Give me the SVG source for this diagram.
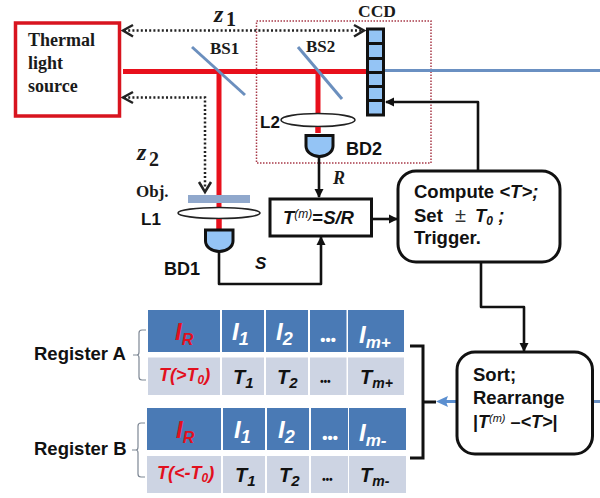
<svg xmlns="http://www.w3.org/2000/svg" width="600" height="498" viewBox="0 0 600 498">
<style>
.s{font-family:"Liberation Serif",serif;font-weight:bold;fill:#1a1a1a}
.a{font-family:"Liberation Sans",Arial,sans-serif;font-weight:bold;fill:#111}
.i{font-style:italic}
.k{fill:none;stroke:#111;stroke-width:3}
.o{fill:none;stroke:#111;stroke-width:2.6;stroke-linejoin:round}
.d{fill:none;stroke:#222;stroke-width:2.5;stroke-dasharray:2 2.2}
.dh{fill:none;stroke:#222;stroke-width:2.5}
.r{fill:none;stroke:#e8101c;stroke-width:5}
.b{fill:none;stroke:#6a90c2;stroke-width:3}
.hd{fill:#4a7ab5}.bd{fill:#cdd4e3}
.w{fill:#fff;font-family:"Liberation Sans",Arial,sans-serif;font-weight:bold;font-style:italic}
.t{fill:#111;font-family:"Liberation Sans",Arial,sans-serif;font-weight:bold;font-style:italic}
.e{fill:#e2101e;font-family:"Liberation Sans",Arial,sans-serif;font-weight:bold;font-style:italic}
.det{fill:#94c4f5;stroke:#111;stroke-width:3}
.lens{fill:#fff;stroke:#222;stroke-width:1.6}
.g{fill:none;stroke:#7d8794;stroke-width:1.2}
</style>
<defs>
<marker id="ah" markerUnits="userSpaceOnUse" markerWidth="10" markerHeight="10" refX="8" refY="5" orient="auto"><path d="M0,0.5L9,5L0,9.5z" fill="#111"/></marker>
</defs>
<rect width="600" height="498" fill="#fff"/>

<g id="box-dotted"><rect x="256.500" y="21" width="174.500" height="142" fill="none" stroke="#a83a48" stroke-width="1.5" stroke-dasharray="1.5 1.5"/></g>

<g id="connectors">
<path class="r" d="M123,71.500H367"/>
<path class="r" d="M219,72V229"/>
<path class="r" d="M318,72V133"/>
<path class="b" d="M384,70.500H600"/>
<path class="d" d="M124,30.500H362"/>
<path class="dh" d="M133,25L123,30.500L133,36.500"/>
<path class="dh" d="M354,25L364,30.500L354,36.500"/>
<path class="d" d="M124,97.500H205V188"/>
<path class="dh" d="M133,92L123,97.500L133,103"/>
<path class="dh" d="M199,182L205,192L211,182"/>
<path class="o" d="M478,170V102H386" marker-end="url(#ah)"/>
<path class="o" d="M319,156V197" marker-end="url(#ah)"/>
<path class="o" d="M219,252V284H321V237" marker-end="url(#ah)"/>
<path class="o" d="M372,219H397" marker-end="url(#ah)"/>
<path class="o" d="M481,262V307H524V351" marker-end="url(#ah)"/>
<path d="M456,401.500H446" fill="none" stroke="#5b8fd0" stroke-width="3"/>
<path d="M436,401.500L448,396L446,401.500L448,407z" fill="#5b8fd0"/>
<path class="b" d="M593,401.500H600"/>
</g>

<g id="thermal-source">
<rect x="15.500" y="23" width="104" height="93" fill="#fff" stroke="#d8141f" stroke-width="3.500"/>
<text class="s" font-size="18" x="28" y="46">Thermal</text>
<text class="s" font-size="18" x="28" y="69">light</text>
<text class="s" font-size="18" x="28" y="92">source</text>
</g>

<g id="z1"><text class="s i" font-size="24" x="214" y="22">z</text><text class="s" font-size="20" x="226" y="26">1</text></g>
<g id="z2"><text class="s i" font-size="24" x="137" y="160">z</text><text class="s" font-size="20" x="149" y="166">2</text></g>

<g id="BS1"><path d="M192,47L245,95" stroke="#6b8fbe" stroke-width="3" fill="none"/><text class="s" font-size="17" x="210" y="54">BS1</text></g>
<g id="BS2"><path d="M298,47L342,99" stroke="#6b8fbe" stroke-width="3" fill="none"/><text class="s" font-size="17" x="306" y="52">BS2</text></g>

<g id="CCD">
<text class="s" font-size="17.500" x="358" y="17">CCD</text>
<rect x="367.500" y="29" width="16" height="86" class="det"/>
<path d="M367,43.500H384M367,58.500H384M367,72.500H384M367,86.500H384M367,100.500H384" stroke="#111" stroke-width="3" fill="none"/>
</g>

<g id="L2"><ellipse class="lens" cx="318" cy="120" rx="37" ry="6.500"/><text class="a" font-size="17" x="260" y="128">L2</text><path class="r" d="M318,127V133"/></g>
<g id="BD2"><path class="det" d="M306,135.500H333V146a13.500,10.500 0 0 1 -27,0z"/><text class="a" font-size="18" x="346" y="155">BD2</text></g>

<g id="Obj"><rect x="188" y="195" width="62" height="8" fill="#90a8cc"/><text class="s" font-size="17" x="136" y="197">Obj.</text></g>
<g id="L1"><ellipse class="lens" cx="219" cy="213" rx="41" ry="5.500"/><text class="a" font-size="17" x="141" y="225">L1</text><path class="r" d="M219,219V229"/></g>
<g id="BD1"><path class="det" d="M205.500,230H233V241a13.750,10.500 0 0 1 -27.500,0z"/><text class="a" font-size="18" x="164" y="275">BD1</text></g>

<text class="s i" font-size="18" x="333" y="184">R</text>
<text class="a i" font-size="17" x="255" y="269">S</text>

<g id="ratio"><rect x="270" y="199" width="101.500" height="37" fill="#fff" stroke="#111" stroke-width="3"/>
<text class="a i" font-size="18.500" x="283" y="224">T<tspan font-size="12" dy="-6" style="font-weight:normal">(m)</tspan><tspan dy="6" font-style="normal">=</tspan>S/R</text></g>

<g id="compute"><rect x="398" y="171" width="162" height="91" rx="18" fill="#fff" stroke="#111" stroke-width="3"/>
<text class="a" font-size="18.500" x="414" y="198">Compute <tspan class="i">&lt;T&gt;;</tspan></text>
<text class="a" font-size="18.500" x="414" y="222">Set</text>
<text font-family="Liberation Sans,sans-serif" font-size="20" x="455" y="222" fill="#333">±</text>
<text class="a i" font-size="18.500" x="475" y="222">T<tspan font-size="12" dy="3">0</tspan><tspan dy="-3"> ;</tspan></text>
<text class="a" font-size="18.500" x="414" y="244">Trigger.</text></g>

<g id="sort"><rect x="457" y="352" width="135.500" height="102" rx="18" fill="#fff" stroke="#111" stroke-width="3"/>
<text class="a" font-size="18.500" x="473" y="381">Sort;</text>
<text class="a" font-size="18.500" x="473" y="404">Rearrange</text>
<text class="a" font-size="18" x="473" y="428">|<tspan class="i">T<tspan font-size="11" dy="-6" style="font-weight:normal">(m)</tspan></tspan><tspan dy="6"> –</tspan><tspan class="i">&lt;T&gt;</tspan>|</text></g>

<g id="register-a">
<text class="a" font-size="18.500" x="34" y="360">Register A</text>
<path class="g" d="M146,330H142Q139,330 139,333V352Q139,355 137,355H133M137,355Q139,355 139,358V377Q139,380 142,380H146"/>
<rect class="hd" x="148" y="310" width="72" height="42"/><rect class="hd" x="222" y="310" width="42" height="42"/><rect class="hd" x="266" y="310" width="42" height="42"/><rect class="hd" x="310" y="310" width="36.500" height="42"/><rect class="hd" x="348" y="310" width="56" height="42"/>
<rect class="bd" x="148" y="357.500" width="72" height="37.500"/><rect class="bd" x="222" y="357.500" width="42" height="37.500"/><rect class="bd" x="266" y="357.500" width="42" height="37.500"/><rect class="bd" x="310" y="357.500" width="36.500" height="37.500"/><rect class="bd" x="348" y="357.500" width="56" height="37.500"/>
<text class="e" font-size="24" x="175" y="340">I<tspan font-size="16" dy="5">R</tspan></text>
<text class="w" font-size="24" x="232" y="340">I<tspan font-size="18" dy="5">1</tspan></text>
<text class="w" font-size="24" x="276" y="340">I<tspan font-size="18" dy="5">2</tspan></text>
<text class="w" font-size="15" x="320" y="345">•••</text>
<text class="w" font-size="24" x="359" y="343">I<tspan font-size="17" dy="5">m+</tspan></text>
<text class="e" font-size="18" x="159" y="381">T(&gt;T<tspan font-size="12" dy="3">0</tspan><tspan dy="-3">)</tspan></text>
<text class="t" font-size="20" x="233" y="384">T<tspan font-size="15" dy="4">1</tspan></text>
<text class="t" font-size="20" x="277" y="384">T<tspan font-size="15" dy="4">2</tspan></text>
<text class="t" font-size="10" x="320" y="385">•••</text>
<text class="t" font-size="20" x="360" y="384">T<tspan font-size="14" dy="4">m+</tspan></text>
</g>

<g id="register-b">
<text class="a" font-size="18.500" x="34" y="455">Register B</text>
<path class="g" d="M145,423H141Q138,423 138,426V447Q138,450 136,450H132M136,450Q138,450 138,453V474Q138,477 141,477H145"/>
<rect class="hd" x="147" y="408" width="74" height="42"/><rect class="hd" x="223" y="408" width="42" height="42"/><rect class="hd" x="267" y="408" width="42" height="42"/><rect class="hd" x="311" y="408" width="37" height="42"/><rect class="hd" x="349" y="408" width="57" height="42"/>
<rect class="bd" x="147" y="456" width="74" height="37"/><rect class="bd" x="223" y="456" width="42" height="37"/><rect class="bd" x="267" y="456" width="42" height="37"/><rect class="bd" x="311" y="456" width="37" height="37"/><rect class="bd" x="349" y="456" width="57" height="37"/>
<text class="e" font-size="24" x="176" y="438">I<tspan font-size="16" dy="5">R</tspan></text>
<text class="w" font-size="24" x="234" y="438">I<tspan font-size="18" dy="5">1</tspan></text>
<text class="w" font-size="24" x="278" y="438">I<tspan font-size="18" dy="5">2</tspan></text>
<text class="w" font-size="15" x="322" y="443">•••</text>
<text class="w" font-size="24" x="359" y="441">I<tspan font-size="17" dy="5">m-</tspan></text>
<text class="e" font-size="18" x="157" y="479">T(&lt;-T<tspan font-size="12" dy="3">0</tspan><tspan dy="-3">)</tspan></text>
<text class="t" font-size="20" x="235" y="482">T<tspan font-size="15" dy="4">1</tspan></text>
<text class="t" font-size="20" x="279" y="482">T<tspan font-size="15" dy="4">2</tspan></text>
<text class="t" font-size="10" x="322" y="483">•••</text>
<text class="t" font-size="20" x="360" y="482">T<tspan font-size="14" dy="4">m-</tspan></text>
</g>

<path id="brace" class="k" d="M410,346H423V458H410M423,402H436"/>
</svg>
